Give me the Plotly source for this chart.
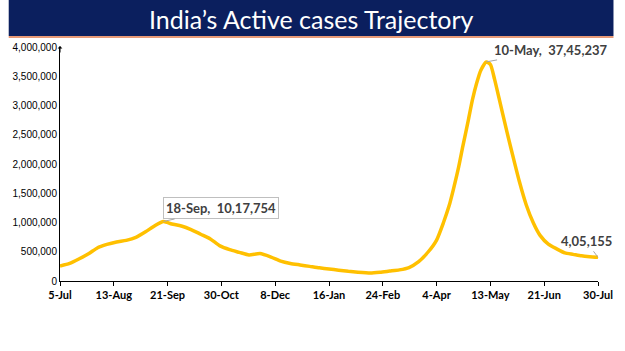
import plotly.graph_objects as go

dates = ["2020-07-05","2020-07-12","2020-07-19","2020-07-26","2020-08-01","2020-08-08",
         "2020-08-15","2020-08-22","2020-08-29","2020-09-05","2020-09-12","2020-09-18",
         "2020-09-24","2020-10-01","2020-10-08","2020-10-15","2020-10-22","2020-10-29",
         "2020-11-05","2020-11-12","2020-11-19","2020-11-27","2020-12-05","2020-12-12",
         "2020-12-19","2020-12-26","2021-01-02","2021-01-09","2021-01-16","2021-01-23",
         "2021-01-30","2021-02-06","2021-02-15","2021-02-22","2021-03-01","2021-03-08",
         "2021-03-15","2021-03-22","2021-03-29","2021-04-04","2021-04-09","2021-04-13",
         "2021-04-16","2021-04-20","2021-04-23","2021-04-27","2021-04-30","2021-05-03",
         "2021-05-06","2021-05-10","2021-05-13","2021-05-16","2021-05-19","2021-05-22",
         "2021-05-26","2021-05-30","2021-06-03","2021-06-08","2021-06-13","2021-06-18",
         "2021-06-24","2021-06-30","2021-07-06","2021-07-12","2021-07-18","2021-07-24",
         "2021-07-30"]
active = [256000,300000,380000,470000,565000,625000,
          667000,695000,745000,840000,950000,1017754,
          975000,940000,880000,800000,720000,600000,
          535000,490000,445000,470000,410000,340000,
          300000,275000,250000,225000,205000,185000,
          165000,150000,137000,150000,170000,190000,
          230000,330000,500000,700000,1000000,1280000,
          1550000,1950000,2300000,2750000,3100000,3380000,
          3600000,3745237,3700000,3450000,3150000,2850000,
          2450000,2070000,1700000,1300000,1000000,780000,
          630000,550000,480000,455000,430000,415000,
          405155]

callouts = [("2020-09-18", 1017754, "18-Sep,  10,17,754"),
            ("2021-05-10", 3745237, "10-May,  37,45,237"),
            ("2021-07-30", 405155, "4,05,155")]

title_text = "India\u2019s Active cases Trajectory"

W, H = 625, 351
ml, mr, mt, mb = 53, 16, 47, 70
pw, ph = W - ml - mr, H - mt - mb

fig = go.Figure()
fig.add_trace(go.Scatter(x=dates, y=active, mode="lines",
                         line=dict(color="#FFC000", width=3.5, shape="spline", smoothing=0.6),
                         hoverinfo="skip"))

def px_x(p):
    return (p - ml) / pw
def px_y(p):
    return (H - mb - p) / ph

# banner
fig.add_shape(type="rect", xref="paper", yref="paper",
              x0=px_x(0), x1=px_x(W), y0=px_y(36), y1=px_y(0),
              fillcolor="#0B1F5E", line=dict(width=0), layer="below")
fig.add_shape(type="line", xref="paper", yref="paper",
              x0=px_x(0), x1=px_x(W), y0=px_y(37), y1=px_y(37),
              line=dict(color="#E0784A", width=1.5))
fig.add_annotation(xref="paper", yref="paper", x=px_x(W / 2), y=px_y(19),
                   text=title_text, showarrow=False,
                   font=dict(family="Lato", size=25, color="white"),
                   xanchor="center", yanchor="middle")

# y-axis arrow head
fig.add_annotation(xref="paper", yref="paper", x=0, y=px_y(46), text="",
                   showarrow=True, arrowhead=1, arrowsize=0.8, arrowwidth=1,
                   arrowcolor="black", ax=0, ay=8, axref="pixel", ayref="pixel")

offsets = [(58, -13, True), (65, -12, False), (-12, -16, False)]
for (d, v, t), (ax, ay, box) in zip(callouts, offsets):
    fig.add_annotation(x=d, y=v, text="<b>" + t + "</b>", showarrow=True,
                       arrowhead=0, arrowwidth=1, arrowcolor="#A6A6A6",
                       ax=ax, ay=ay,
                       font=dict(family="Lato", size=13, color="#404040"),
                       bgcolor="white" if box else None,
                       bordercolor="#BFBFBF" if box else None,
                       borderwidth=1 if box else 0, borderpad=2)

fig.update_layout(
    width=W, height=H, margin=dict(l=ml, r=mr, t=mt, b=mb),
    plot_bgcolor="white", paper_bgcolor="white", showlegend=False,
    xaxis=dict(type="date", range=["2020-07-05", "2021-07-30"],
               tick0="2020-07-05", dtick=39 * 86400000, tickformat="%-d-%b",
               showgrid=False, showline=True, linecolor="black", linewidth=1,
               ticks="outside", ticklen=4, tickcolor="black",
               tickfont=dict(family="Lato", size=11, color="black", weight="bold"),
               zeroline=False),
    yaxis=dict(range=[0, 4000000], dtick=500000, tickformat=",",
               showgrid=False, showline=True, linecolor="black", linewidth=1,
               ticks="", tickfont=dict(family="Liberation Sans", size=10, color="black"),
               zeroline=False),
)

fig.write_html("out.html")
